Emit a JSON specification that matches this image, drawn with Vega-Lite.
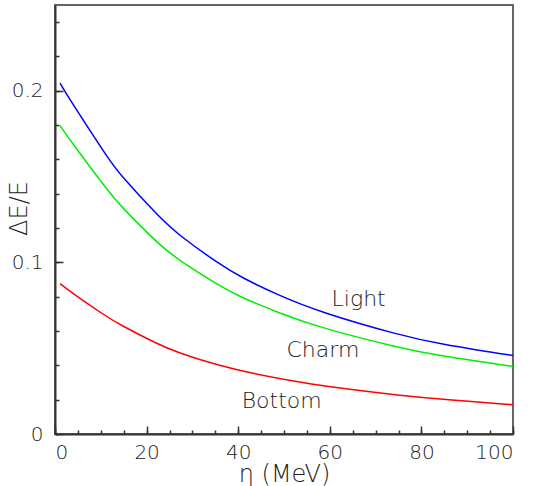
{
  "$schema": "https://vega.github.io/schema/vega-lite/v6.json",
  "width": 458,
  "height": 429,
  "autosize": {"type": "none"},
  "padding": {"left": 55, "top": 5, "right": 23, "bottom": 52},
  "background": "white",
  "config": {
    "view": {"stroke": "#666666", "strokeWidth": 2},
    "font": "DejaVu Sans",
    "axis": {
      "domainColor": "#333333",
      "domainWidth": 2,
      "tickColor": "#333333",
      "tickWidth": 1.5,
      "grid": false,
      "labelFont": "DejaVu Sans",
      "labelFontWeight": 200,
      "labelColor": "#222222",
      "labelFontSize": 20,
      "titleFont": "DejaVu Sans",
      "titleFontWeight": 200,
      "titleColor": "#222222",
      "titleFontSize": 24
    }
  },
  "datasets": {
    "curves": [
      {"flavour": "Light", "eta": 1.1, "dE": 0.2045},
      {"flavour": "Light", "eta": 3.2, "dE": 0.1950},
      {"flavour": "Light", "eta": 11.9, "dE": 0.1594},
      {"flavour": "Light", "eta": 14.1, "dE": 0.1515},
      {"flavour": "Light", "eta": 22.8, "dE": 0.1262},
      {"flavour": "Light", "eta": 27.2, "dE": 0.1155},
      {"flavour": "Light", "eta": 36.0, "dE": 0.0988},
      {"flavour": "Light", "eta": 40.3, "dE": 0.0918},
      {"flavour": "Light", "eta": 49.1, "dE": 0.0804},
      {"flavour": "Light", "eta": 57.8, "dE": 0.0711},
      {"flavour": "Light", "eta": 75.3, "dE": 0.0575},
      {"flavour": "Light", "eta": 84.0, "dE": 0.0524},
      {"flavour": "Light", "eta": 100, "dE": 0.0457},
      {"flavour": "Charm", "eta": 1.1, "dE": 0.1798},
      {"flavour": "Charm", "eta": 3.2, "dE": 0.1715},
      {"flavour": "Charm", "eta": 11.9, "dE": 0.1405},
      {"flavour": "Charm", "eta": 14.1, "dE": 0.1335},
      {"flavour": "Charm", "eta": 22.8, "dE": 0.1100},
      {"flavour": "Charm", "eta": 27.2, "dE": 0.1010},
      {"flavour": "Charm", "eta": 36.0, "dE": 0.0862},
      {"flavour": "Charm", "eta": 40.3, "dE": 0.0800},
      {"flavour": "Charm", "eta": 49.1, "dE": 0.0703},
      {"flavour": "Charm", "eta": 57.8, "dE": 0.0620},
      {"flavour": "Charm", "eta": 75.3, "dE": 0.0501},
      {"flavour": "Charm", "eta": 84.0, "dE": 0.0455},
      {"flavour": "Charm", "eta": 100, "dE": 0.0394},
      {"flavour": "Bottom", "eta": 1.1, "dE": 0.0876},
      {"flavour": "Bottom", "eta": 3.2, "dE": 0.0832},
      {"flavour": "Bottom", "eta": 11.0, "dE": 0.0688},
      {"flavour": "Bottom", "eta": 14.1, "dE": 0.0638},
      {"flavour": "Bottom", "eta": 22.8, "dE": 0.0518},
      {"flavour": "Bottom", "eta": 27.2, "dE": 0.0472},
      {"flavour": "Bottom", "eta": 31.6, "dE": 0.0433},
      {"flavour": "Bottom", "eta": 36.0, "dE": 0.0400},
      {"flavour": "Bottom", "eta": 42.5, "dE": 0.0356},
      {"flavour": "Bottom", "eta": 53.4, "dE": 0.0301},
      {"flavour": "Bottom", "eta": 64.4, "dE": 0.0259},
      {"flavour": "Bottom", "eta": 75.3, "dE": 0.0225},
      {"flavour": "Bottom", "eta": 86.2, "dE": 0.0198},
      {"flavour": "Bottom", "eta": 100, "dE": 0.0171}
    ],
    "labels": [
      {"label": "Light", "eta": 66.3, "dE": 0.0789},
      {"label": "Charm", "eta": 58.5, "dE": 0.0492},
      {"label": "Bottom", "eta": 49.5, "dE": 0.0192}
    ]
  },
  "layer": [
    {
      "data": {"name": "curves"},
      "mark": {"type": "line", "strokeWidth": 1.5, "interpolate": "basis"},
      "encoding": {
        "x": {
          "field": "eta", "type": "quantitative",
          "scale": {"domain": [0, 100], "nice": false, "zero": false},
          "axis": {
            "orient": "bottom", "values": [0, 20, 40, 60, 80, 100],
            "tickSize": -8, "labelPadding": 16, "format": "d",
            "title": "η (MeV)", "titleX": 229, "titleY": 40,
            "titleBaseline": "middle", "titleAlign": "center"
          }
        },
        "y": {
          "field": "dE", "type": "quantitative",
          "scale": {"domain": [0, 0.25], "nice": false},
          "axis": {
            "orient": "left", "values": [0, 0.1, 0.2],
            "tickSize": -8, "labelPadding": 20, "format": "~g",
            "title": "ΔE/E", "titleX": -36, "titleY": 203, "titleAngle": 270,
            "titleBaseline": "middle", "titleAlign": "center"
          }
        },
        "color": {
          "field": "flavour", "type": "nominal",
          "scale": {"domain": ["Light", "Charm", "Bottom"], "range": ["#0000ff", "#00ee00", "#ff0000"]},
          "legend": null
        }
      }
    },
    {
      "data": {"name": "curves"},
      "mark": {"type": "line", "opacity": 0},
      "encoding": {
        "x": {
          "field": "eta", "type": "quantitative",
          "scale": {"domain": [0, 100], "nice": false, "zero": false},
          "axis": {
            "orient": "bottom", "values": [0, 5, 10, 15, 20, 25, 30, 35, 40, 45, 50, 55, 60, 65, 70, 75, 80, 85, 90, 95, 100],
            "tickSize": -4, "labels": false, "domain": false, "title": null
          }
        },
        "y": {
          "field": "dE", "type": "quantitative",
          "scale": {"domain": [0, 0.25], "nice": false},
          "axis": {
            "orient": "left", "values": [0, 0.02, 0.04, 0.06, 0.08, 0.1, 0.12, 0.14, 0.16, 0.18, 0.2, 0.22, 0.24],
            "tickSize": -4, "labels": false, "domain": false, "title": null
          }
        },
        "detail": {"field": "flavour"}
      }
    },
    {
      "data": {"name": "labels"},
      "mark": {"type": "text", "fontSize": 22, "font": "DejaVu Sans", "fontWeight": 200, "color": "#222222", "align": "center", "baseline": "middle"},
      "encoding": {
        "x": {"field": "eta", "type": "quantitative", "scale": {"domain": [0, 100], "nice": false, "zero": false}, "axis": null},
        "y": {"field": "dE", "type": "quantitative", "scale": {"domain": [0, 0.25], "nice": false}, "axis": null},
        "text": {"field": "label"}
      }
    }
  ],
  "resolve": {"scale": {"x": "independent", "y": "independent"}}
}
